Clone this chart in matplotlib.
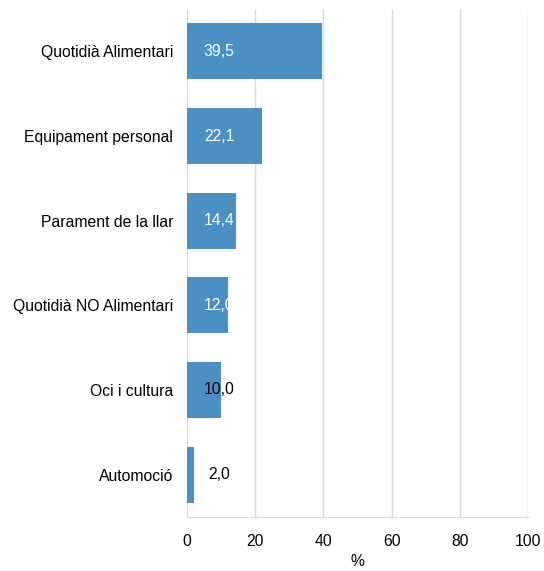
import matplotlib
matplotlib.use("Agg")
import matplotlib.pyplot as plt

categories = ["Quotidià Alimentari", "Equipament personal", "Parament de la llar",
              "Quotidià NO Alimentari", "Oci i cultura", "Automoció"]
values = [39.5, 22.1, 14.4, 12.0, 10.0, 2.0]
label_colors = ["white", "white", "white", "white", "black", "black"]
xticks = [0, 20, 40, 60, 80, 100]

FS = 11.3
plt.rcParams['font.family'] = ['Liberation Sans', 'DejaVu Sans']
fig = plt.figure(figsize=(5.44, 5.71), dpi=100)
ax = fig.add_axes([187/544, 1 - 517/571, (528-187)/544, (517-9)/571])

ypos = list(range(len(categories)))[::-1]
ax.barh(ypos, values, height=0.66, color="#4a90c4", zorder=3)
for y, v, c in zip(ypos, values, label_colors):
    ax.text(9.4, y, f"{v:.1f}".replace(".", ","), ha="center", va="center",
            color=c, fontsize=FS, zorder=4)

ax.set_xlim(0, 100)
ax.set_ylim(-0.5, 5.5)
ax.set_xticks(xticks)
ax.set_xticklabels([str(t) for t in xticks], fontsize=FS)
ax.set_yticks(ypos)
ax.set_yticklabels(categories, fontsize=FS)
ax.tick_params(axis="both", length=0)
ax.tick_params(axis="y", pad=10)
ax.tick_params(axis="x", pad=12)
ax.grid(axis="x", color="#d9d9d9", linewidth=1, zorder=0)
for s in ["top", "right", "left"]:
    ax.spines[s].set_visible(False)
ax.spines["bottom"].set_color("#d9d9d9")
ax.set_xlabel("%", fontsize=FS, labelpad=4)

fig.savefig("out.png", dpi=100)
